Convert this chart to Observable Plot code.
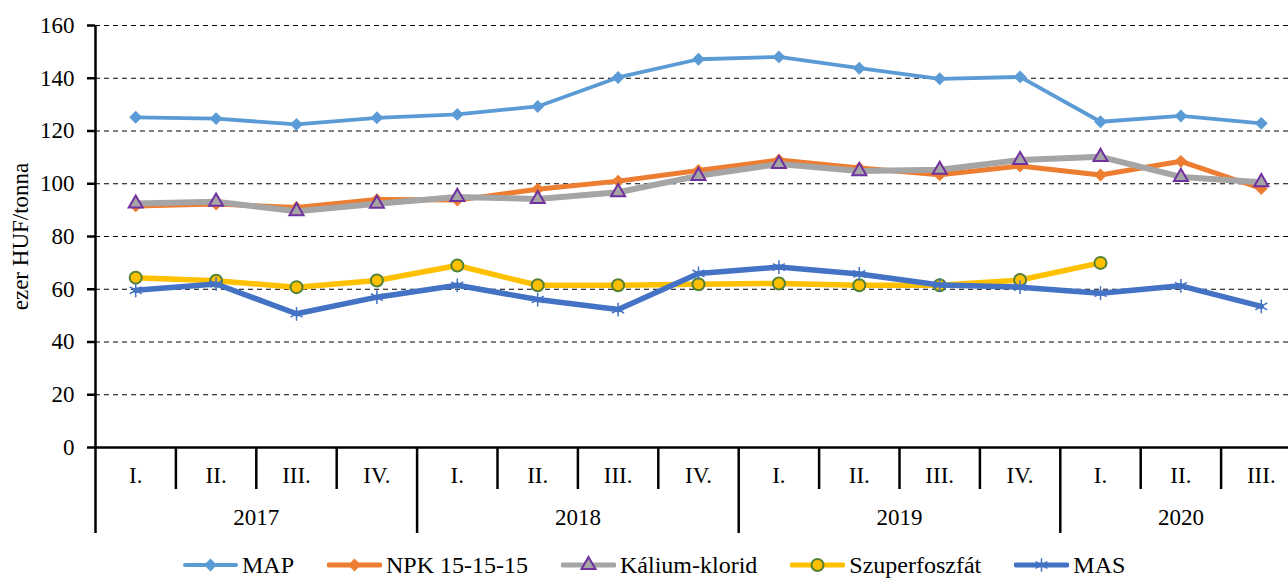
<!DOCTYPE html>
<html>
<head>
<meta charset="utf-8">
<script src="https://cdn.jsdelivr.net/npm/d3@7"></script>
<script src="https://cdn.jsdelivr.net/npm/@observablehq/plot@0.6"></script>
<style>
  html, body { margin: 0; padding: 0; background: #fff; }
  body { width: 1288px; height: 579px; overflow: hidden; position: relative;
         font-family: "Liberation Serif", "DejaVu Serif", Times, serif; }
  #chart { position: absolute; left: 0; top: 0; }
  #chart svg, #chart svg text { font-family: "Liberation Serif", "DejaVu Serif", Times, serif !important; }
  #legend { position: absolute; left: 183px; top: 552px; height: 26px; display: flex;
            align-items: center; gap: 33px; font-size: 24px; color: #000; white-space: nowrap; }
  .item { display: flex; align-items: center; gap: 4px; }
  .item svg { display: block; }
</style>
</head>
<body>
<div id="chart"></div>
<div id="legend"></div>
<script>
// ---- data ----
const quarters = ["I.", "II.", "III.", "IV.", "I.", "II.", "III.", "IV.", "I.", "II.", "III.", "IV.", "I.", "II.", "III."];
const years = ["2017", "2017", "2017", "2017", "2018", "2018", "2018", "2018", "2019", "2019", "2019", "2019", "2020", "2020", "2020"];
const yTicks = [0, 20, 40, 60, 80, 100, 120, 140, 160];
const seriesNames = ["MAP", "NPK 15-15-15", "Kálium-klorid", "Szuperfoszfát", "MAS"];
const mapValues = [125.2, 124.7, 122.5, 125.0, 126.3, 129.3, 140.3, 147.2, 148.1, 143.8, 139.8, 140.5, 123.5, 125.7, 122.9];
const npkValues = [91.6, 92.3, 91.0, 94.0, 93.8, 97.9, 101.0, 105.0, 109.0, 106.0, 103.4, 106.7, 103.3, 108.5, 98.2];
const kaliumValues = [92.5, 93.2, 89.6, 92.4, 95.0, 94.2, 96.8, 103.0, 107.5, 104.8, 105.3, 109.0, 110.2, 102.6, 100.6];
const szuperValues = [64.4, 63.2, 60.8, 63.3, 69.0, 61.5, 61.5, 61.9, 62.2, 61.5, 61.5, 63.5, 70.0, null, null];
const masValues = [59.6, 62.0, 50.7, 57.0, 61.5, 56.1, 52.3, 66.0, 68.4, 65.8, 61.6, 60.8, 58.5, 61.3, 53.5];
const allValues = [mapValues, npkValues, kaliumValues, szuperValues, masValues];

// ---- styles ----
const styles = [
  {color: "#5B9BD5", width: 3.8, symbol: "diamond2", d3sym: d3.symbolDiamond2, r: 5.8, fill: "#5B9BD5", mstroke: "none", msw: 0, lw: 4},
  {color: "#ED7D31", width: 5, symbol: "diamond2", d3sym: d3.symbolDiamond2, r: 5.8, fill: "#ED7D31", mstroke: "none", msw: 0, lw: 5},
  {color: "#A5A5A5", width: 6, symbol: "triangle", d3sym: d3.symbolTriangle, r: 5.2, fill: "#A5A5A5", mstroke: "#7030A0", msw: 2, lw: 5},
  {color: "#FFC000", width: 5.5, symbol: "circle", d3sym: d3.symbolCircle, r: 6, fill: "#FFC000", mstroke: "#548235", msw: 2, lw: 5},
  {color: "#4472C4", width: 5.5, symbol: "asterisk", d3sym: d3.symbolAsterisk, r: 6.5, fill: "none", mstroke: "#4472C4", msw: 1.5, lw: 5}
];

const FONT = "Liberation Serif, DejaVu Serif, Times, serif";
const idx = quarters.map((_, i) => i);
const yearList = [...new Set(years)];
const yearCenter = new Map(yearList.map(y => [d3.mean(idx.filter(i => years[i] === y)), y]));
const yearBounds = yearList.map(y => d3.min(idx.filter(i => years[i] === y)) - 0.5).concat([idx.length - 0.5]);
const quarterBounds = idx.slice(0, -1).filter(i => years[i] === years[i + 1]).map(i => i + 0.5);

const seriesMarks = seriesNames.flatMap((name, k) => {
  const s = styles[k];
  const rows = allValues[k].map((v, i) => ({i, v, name}));
  return [
    Plot.line(rows, {x: "i", y: "v", stroke: s.color, strokeWidth: s.width, strokeLinejoin: "round", strokeLinecap: "round"}),
    Plot.dot(rows.filter(d => d.v != null), {x: "i", y: "v", symbol: s.symbol, r: s.r, fill: s.fill, stroke: s.mstroke, strokeWidth: s.msw})
  ];
});

const chart = Plot.plot({
  width: 1288,
  height: 540,
  marginTop: 25,
  marginBottom: 93,
  marginLeft: 95,
  marginRight: 0,
  style: {fontFamily: FONT, fontSize: "23px", color: "#000", background: "#fff", overflow: "hidden"},
  x: {domain: [-0.5, idx.length - 0.5], range: [95, 1301]},
  y: {domain: [0, 160]},
  marks: [
    Plot.gridY(yTicks.filter(t => t > 0), {stroke: "#000", strokeOpacity: 1, strokeWidth: 1, strokeDasharray: "5,4"}),
    Plot.axisY(yTicks, {tickSize: 8, tickPadding: 13, strokeWidth: 2.5, fontSize: 23, fontFamily: FONT,
      label: "ezer HUF/tonna", labelAnchor: "center", labelArrow: "none", labelOffset: 84}),
    Plot.ruleX([-0.5], {stroke: "#000", strokeWidth: 2.5}),
    Plot.ruleY([0], {stroke: "#000", strokeWidth: 2.5}),
    Plot.axisX(quarterBounds, {tickSize: 42, tickFormat: () => "", strokeWidth: 2.5, label: null}),
    Plot.axisX(yearBounds, {tickSize: 86, tickFormat: () => "", strokeWidth: 2.5, label: null}),
    Plot.axisX(idx, {tickSize: 0, tickPadding: 19, tickFormat: i => quarters[i], fontSize: 23, fontFamily: FONT, label: null}),
    Plot.axisX([...yearCenter.keys()], {tickSize: 0, tickPadding: 61, tickFormat: c => yearCenter.get(c), fontSize: 23, fontFamily: FONT, label: null}),
    ...seriesMarks
  ]
});
document.getElementById("chart").appendChild(chart);

// ---- legend ----
const legend = d3.select("#legend");
seriesNames.forEach((name, k) => {
  const s = styles[k];
  const item = legend.append("div").attr("class", "item");
  const svg = item.append("svg").attr("width", 55).attr("height", 20);
  svg.append("line").attr("x1", 2).attr("x2", 53).attr("y1", 10).attr("y2", 10)
    .attr("stroke", s.color).attr("stroke-width", s.lw).attr("stroke-linecap", "round");
  svg.append("path").attr("transform", "translate(27.5,10)")
    .attr("d", d3.symbol(s.d3sym, s.r * s.r * Math.PI)())
    .attr("fill", s.fill).attr("stroke", s.mstroke).attr("stroke-width", s.msw);
  item.append("span").text(name);
});
</script>
</body>
</html>
